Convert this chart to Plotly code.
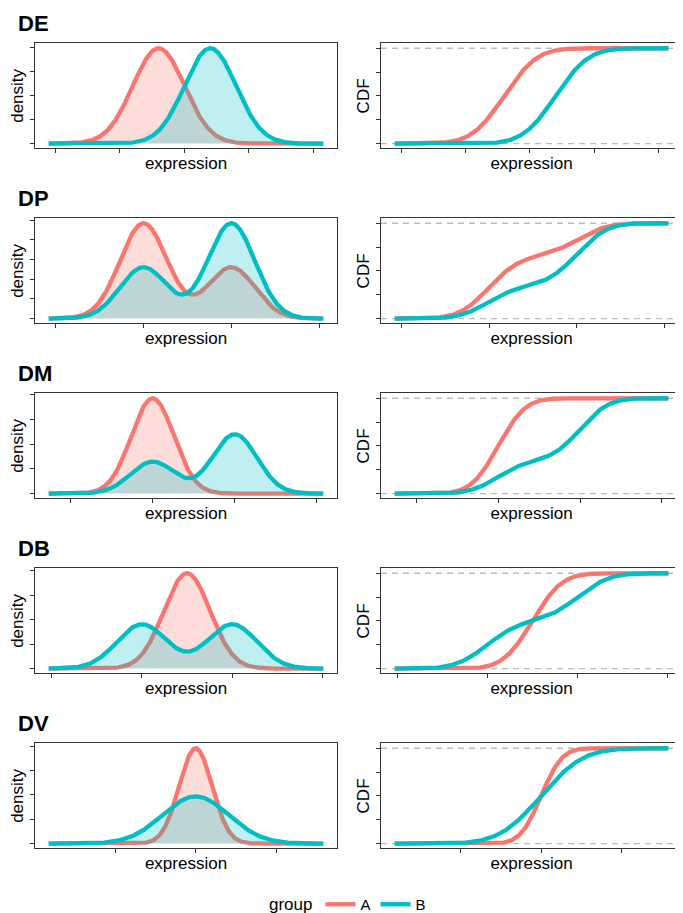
import math
import numpy as np
import plotly.graph_objects as go

# ---------------- data ----------------
patterns = ["DE", "DP", "DM", "DB", "DV"]
groups = ["A", "B"]

# observed range of expression values per pattern
x_min = [-0.26, -0.31, -1.06, -0.12, 0.44]
x_max = [10.38, 12.18, 12.31, 12.03, 8.96]

# axis breaks (labels are hidden in the figure)
x_ticks = [
    [0, 2.5, 5, 7.5, 10],
    [0, 4, 8, 12],
    [0, 4, 8, 12],
    [0, 4, 8, 12],
    [0, 2.5, 5, 7.5],
]
density_ticks = [
    [0, 0.1, 0.2, 0.3, 0.4],
    [0, 0.05, 0.10, 0.15, 0.20, 0.25],
    [0, 0.1, 0.2, 0.3, 0.4],
    [0, 0.1, 0.2, 0.3, 0.4],
    [0, 0.2, 0.4, 0.6, 0.8],
]
cdf_ticks = [0, 0.25, 0.5, 0.75, 1]
cdf_reference_levels = [0, 1]

# mixture components of group A and group B in each pattern
a_means = [[4], [4, 8], [4], [6], [5]]
a_sds = [[1.0], [1.07, 1.07], [1.034], [1.023], [0.509]]
a_weights = [[1.0], [0.65, 0.35], [1.0], [1.0], [1.0]]

b_means = [[6], [4, 8], [4, 8], [4, 8], [5]]
b_sds = [[1.0], [1.07, 1.07], [1.08, 1.08], [1.1, 1.1], [1.028]]
b_weights = [[1.0], [0.35, 0.65], [0.35, 0.65], [0.5, 0.5], [1.0]]

colors = ["#F8766D", "#00BFC4"]
fill_colors = ["rgba(248,118,109,0.25)", "rgba(0,191,196,0.25)"]

# ---------------- helpers ----------------
def mix_density(x, means, sds, weights):
    y = np.zeros_like(x)
    for m, s, w in zip(means, sds, weights):
        y += w * np.exp(-0.5 * ((x - m) / s) ** 2) / (s * math.sqrt(2 * math.pi))
    return y


def mix_cdf(x, means, sds, weights):
    y = np.zeros_like(x)
    for m, s, w in zip(means, sds, weights):
        y += w * 0.5 * (1 + np.array([math.erf(v) for v in (x - m) / (s * math.sqrt(2))]))
    return y


# the page body keeps its default 8px margin: lay out in window pixels,
# then convert to figure coordinates (figure runs 8px past the window bottom)
OFF = 8
W, H = 683 - OFF, 913


def px_x(p):
    return (p - OFF) / W


def px_y(p):
    return 1 - (p - OFF) / H


left_dom = [px_x(35), px_x(337)]
right_dom = [px_x(381), px_x(682)]
panel_h = 105
row_top0 = 43.5
row_step = 175.2

FONT = "Liberation Sans, Arial, Helvetica, sans-serif"
AX_COL = "#333333"
LINE_W = 4.3

fig = go.Figure()
layout_axes = {}
shapes = []
annotations = []

for i, pat in enumerate(patterns):
    top = row_top0 + row_step * i
    ydom = [px_y(top + panel_h), px_y(top)]
    xs = np.linspace(x_min[i], x_max[i], 600)
    span = x_max[i] - x_min[i]
    xr = [x_min[i] - 0.05 * span, x_max[i] + 0.05 * span]

    params = [
        (a_means[i], a_sds[i], a_weights[i]),
        (b_means[i], b_sds[i], b_weights[i]),
    ]
    dens = [mix_density(xs, *p) for p in params]
    cdfs = [mix_cdf(xs, *p) for p in params]
    dmax = max(d.max() for d in dens)
    yr_d = [-0.05 * dmax, 1.05 * dmax]

    nL = 2 * i + 1
    nR = 2 * i + 2
    for n, dom, yt, yr, ytitle in [
        (nL, left_dom, density_ticks[i], yr_d, "density"),
        (nR, right_dom, cdf_ticks, [-0.05, 1.05], "CDF"),
    ]:
        xname = "xaxis" if n == 1 else f"xaxis{n}"
        yname = "yaxis" if n == 1 else f"yaxis{n}"
        common = dict(
            ticks="outside", ticklen=4, tickwidth=1, tickcolor=AX_COL,
            showticklabels=False, showline=True, mirror=True,
            linecolor=AX_COL, linewidth=1, showgrid=False, zeroline=False,
            automargin=False, fixedrange=True,
        )
        layout_axes[xname] = dict(
            domain=dom, range=xr, tickmode="array", tickvals=x_ticks[i],
            anchor=f"y{n}" if n > 1 else "y",
            title=dict(text="expression", font=dict(size=17, color="black"), standoff=4),
            **common,
        )
        layout_axes[yname] = dict(
            domain=ydom, range=yr, tickmode="array", tickvals=yt,
            anchor=f"x{n}" if n > 1 else "x",
            title=dict(text=ytitle, font=dict(size=17, color="black"), standoff=2),
            **common,
        )

    # density panel: fill + outline for each group (A first, then B)
    for g in range(2):
        fig.add_trace(go.Scatter(
            x=xs, y=dens[g], mode="lines", fill="tozeroy",
            fillcolor=fill_colors[g], line=dict(color=colors[g], width=LINE_W),
            name=groups[g], legendgroup=groups[g], showlegend=False,
            xaxis=f"x{nL}" if nL > 1 else "x", yaxis=f"y{nL}" if nL > 1 else "y",
            hoverinfo="skip",
        ))
    # CDF panel
    for g in range(2):
        fig.add_trace(go.Scatter(
            x=xs, y=cdfs[g], mode="lines",
            line=dict(color=colors[g], width=LINE_W),
            name=groups[g], legendgroup=groups[g], showlegend=(i == 0),
            xaxis=f"x{nR}", yaxis=f"y{nR}", hoverinfo="skip",
        ))
    for lvl in cdf_reference_levels:
        shapes.append(dict(
            type="line", xref=f"x{nR} domain", x0=0, x1=1,
            yref=f"y{nR}", y0=lvl, y1=lvl, layer="below",
            line=dict(color="#BBBBBB", width=1.3, dash="6px,5px"),
        ))

    annotations.append(dict(
        text=f"<b>{pat}</b>", xref="paper", yref="paper",
        x=px_x(16), y=px_y(top - 20), xanchor="left", yanchor="middle",
        showarrow=False, font=dict(size=22, color="black", family=FONT),
    ))

fig.update_layout(
    width=W, height=H,
    margin=dict(l=0, r=0, t=0, b=0),
    paper_bgcolor="white", plot_bgcolor="white",
    font=dict(family=FONT, color="black", size=17),
    shapes=shapes, annotations=annotations,
    showlegend=True,
    legend=dict(
        orientation="h", x=px_x(349), xanchor="center", y=px_y(905), yanchor="middle",
        title=dict(text="group", side="left", font=dict(size=17)),
        font=dict(size=15), itemwidth=30, bgcolor="rgba(0,0,0,0)",
    ),
    **layout_axes,
)

fig.write_html("out.html", config={"displayModeBar": False})
